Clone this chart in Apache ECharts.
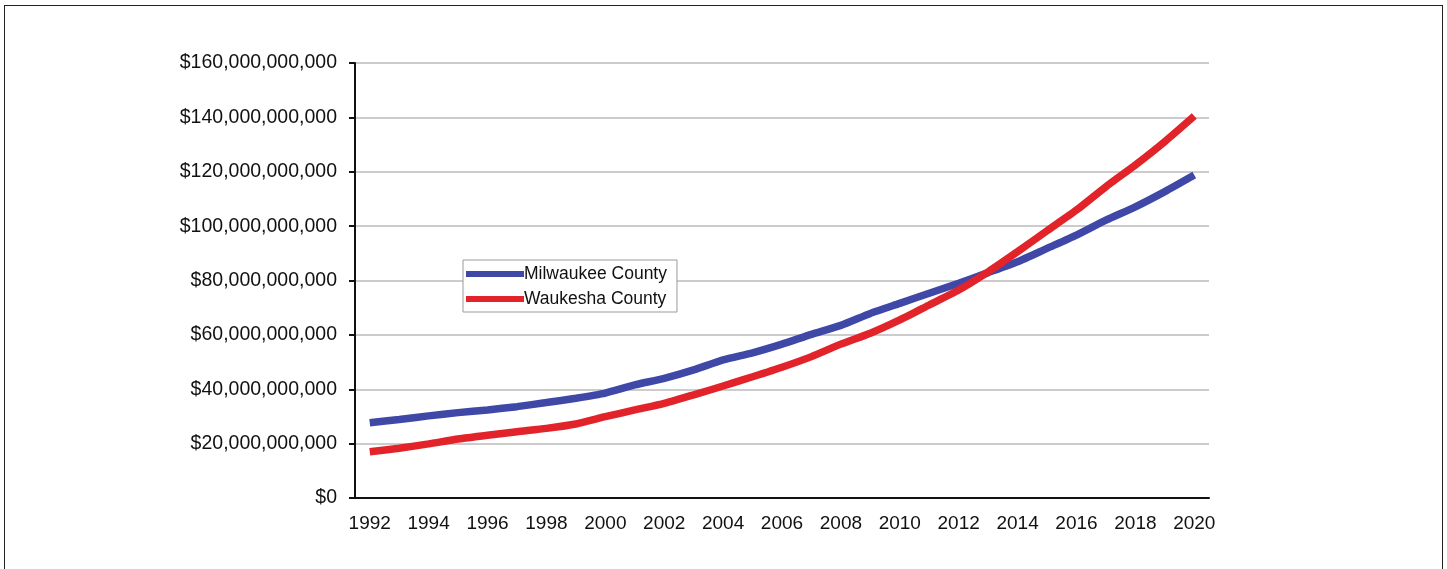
<!DOCTYPE html>
<html>
<head>
<meta charset="utf-8">
<script src="https://cdn.jsdelivr.net/npm/echarts@6/dist/echarts.min.js"></script>
<style>
  html, body { margin: 0; padding: 0; background: #fff; overflow: hidden; }
  #chart { position: absolute; left: 0; top: 0; width: 1447px; height: 569px; }
  #frame { position: absolute; left: 4px; top: 5px; width: 1437px; height: 600px;
           border: 1px solid #222; pointer-events: none; }
</style>
</head>
<body>
<div id="chart"></div>
<div id="frame"></div>
<script>
const years = [];
for (let y = 1992; y <= 2020; y++) years.push(String(y));

// values in billions of dollars
const milwaukee = [27.7, 28.9, 30.2, 31.4, 32.4, 33.6, 35.1, 36.7, 38.6, 41.6,
  44.0, 47.1, 50.8, 53.4, 56.6, 60.2, 63.5, 67.9, 71.6, 75.3,
  79.0, 82.9, 86.9, 91.8, 96.7, 102.2, 107.1, 112.7, 118.8];
const waukesha = [17.0, 18.3, 19.9, 21.7, 23.1, 24.4, 25.6, 27.2, 29.9, 32.4,
  34.8, 37.9, 41.2, 44.6, 48.1, 52.0, 56.6, 60.6, 65.5, 71.0,
  76.5, 83.2, 90.6, 98.3, 105.9, 114.5, 122.5, 131.1, 140.5];

const billion = 1e9;
const font = "'Liberation Sans', Arial, sans-serif";

const chart = echarts.init(document.getElementById("chart"), null, { renderer: "canvas" });
chart.setOption({
  animation: false,
  backgroundColor: "#fff",
  grid: { left: 355, right: 238, top: 63, bottom: 71 },
  legend: {
    orient: "vertical",
    left: 463,
    top: 260,
    padding: [5, 10, 4, 3],
    itemGap: 7,
    itemWidth: 58,
    itemHeight: 6,
    icon: "rect",
    backgroundColor: "#fff",
    borderColor: "#9a9a9a",
    borderWidth: 1,
    borderRadius: 0,
    textStyle: { fontFamily: font, fontSize: 17.5, color: "#111", padding: [0, 0, 0, -5] },
    data: ["Milwaukee County", "Waukesha County"]
  },
  xAxis: {
    type: "category",
    data: years,
    boundaryGap: true,
    axisLine: { lineStyle: { color: "#111", width: 2 } },
    axisTick: { interval: 0, length: 6, lineStyle: { color: "#111", width: 2 } },
    axisLabel: { interval: 1, margin: 16, fontFamily: font, fontSize: 19, color: "#111" },
    splitLine: { show: false }
  },
  yAxis: {
    type: "value",
    min: 0,
    max: 160 * billion,
    interval: 20 * billion,
    axisLine: { show: true, lineStyle: { color: "#111", width: 2 } },
    axisTick: { show: true, length: 6, lineStyle: { color: "#111", width: 2 } },
    axisLabel: {
      margin: 18,
      fontFamily: font,
      fontSize: 19.5,
      color: "#111",
      formatter: v => "$" + Math.round(v).toLocaleString("en-US")
    },
    splitLine: { lineStyle: { color: "#cccccc", width: 2 } }
  },
  series: [
    {
      name: "Milwaukee County",
      type: "line",
      data: milwaukee.map(v => v * billion),
      showSymbol: false,
      smooth: 0.2,
      color: "#3f48a6",
      lineStyle: { width: 7.5, color: "#3f48a6" },
      z: 2
    },
    {
      name: "Waukesha County",
      type: "line",
      data: waukesha.map(v => v * billion),
      showSymbol: false,
      smooth: 0.2,
      color: "#e2232a",
      lineStyle: { width: 7.5, color: "#e2232a" },
      z: 3
    }
  ]
});
</script>
</body>
</html>
